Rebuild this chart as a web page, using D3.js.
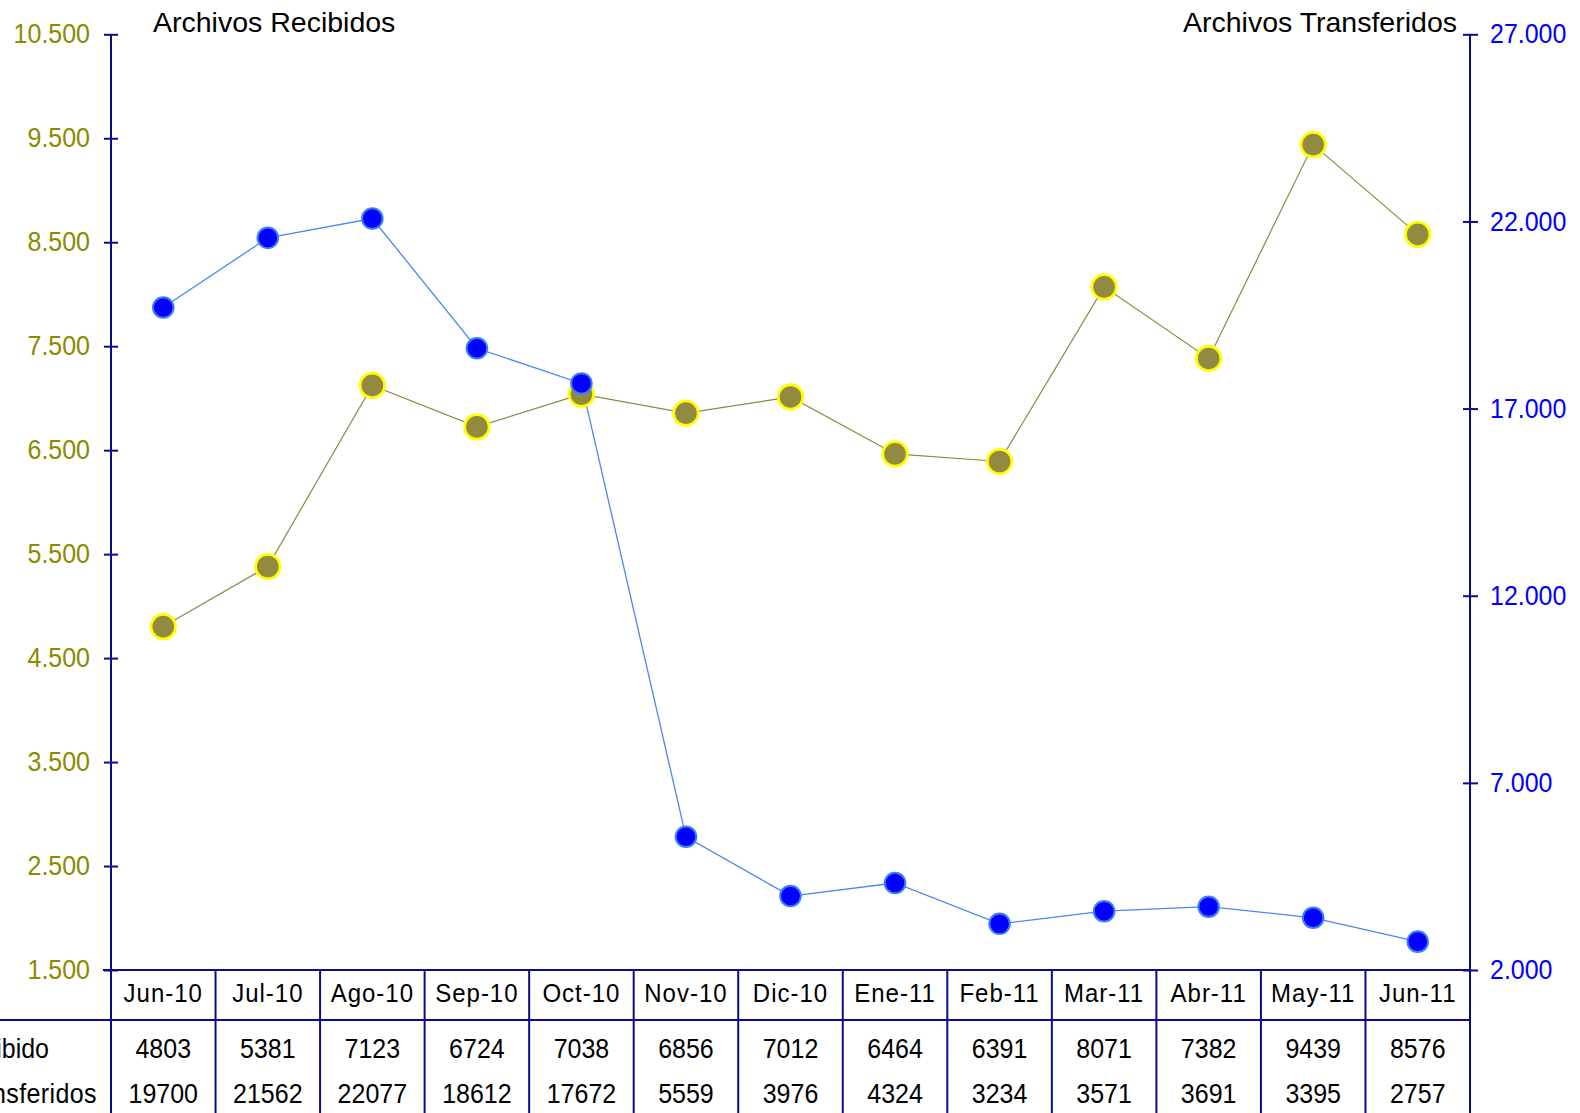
<!DOCTYPE html>
<html><head><meta charset="utf-8">
<script src="https://cdn.jsdelivr.net/npm/d3@7"></script>
<style>
html,body{margin:0;padding:0;background:#fff;}
svg{display:block;}
text{font-family:"Liberation Sans",Arial,sans-serif;}
</style></head>
<body>
<svg id="c" width="1580" height="1113"></svg>
<script>
const months = ["Jun-10","Jul-10","Ago-10","Sep-10","Oct-10","Nov-10","Dic-10","Ene-11","Feb-11","Mar-11","Abr-11","May-11","Jun-11"];
const recibidos = [4803,5381,7123,6724,7038,6856,7012,6464,6391,8071,7382,9439,8576];
const transferidos = [19700,21562,22077,18612,17672,5559,3976,4324,3234,3571,3691,3395,2757];
const leftTicks = [1500,2500,3500,4500,5500,6500,7500,8500,9500,10500];
const rightTicks = [2000,7000,12000,17000,22000,27000];
const rowLabels = ["Recibido","Transferidos"];

const svg = d3.select("#c");
const L = 111, R = 1470, T = 34.3, B = 970;
const navy = "#0a0a8c", olive = "#8c8a00", blue = "#0000ff";
const fmt = d3.formatLocale({decimal:",",thousands:".",grouping:[3],currency:["",""]}).format(",.0f");

const x = d3.scaleBand().domain(months).range([L,R]).padding(0);
const yL = d3.scaleLinear().domain([1500,10500]).range([B,T]);
const yR = d3.scaleLinear().domain([2000,27000]).range([B,T]);
const cx = m => x(m) + x.bandwidth()/2;

// Left axis
const gL = svg.append("g").attr("transform",`translate(${L},0)`)
  .call(d3.axisLeft(yL).tickValues(leftTicks).tickFormat(fmt).tickSize(7).tickPadding(14));
gL.select(".domain").remove();
gL.selectAll(".tick line").attr("x1",-7).attr("x2",7).attr("stroke",navy).attr("stroke-width",2);
gL.selectAll(".tick text").attr("fill",olive).style("font-size","25px")
  .attr("font-family","Liberation Sans, Arial, sans-serif").attr("transform","scale(1,1.08)");
svg.append("line").attr("x1",L).attr("x2",L).attr("y1",T).attr("y2",1113).attr("stroke",navy).attr("stroke-width",2);

// Right axis
const gR = svg.append("g").attr("transform",`translate(${R},0)`)
  .call(d3.axisRight(yR).tickValues(rightTicks).tickFormat(fmt).tickSize(8).tickPadding(12));
gR.select(".domain").remove();
gR.selectAll(".tick line").attr("x1",-7).attr("x2",8).attr("stroke",navy).attr("stroke-width",2);
gR.selectAll(".tick text").attr("fill",blue).style("font-size","25px")
  .attr("font-family","Liberation Sans, Arial, sans-serif").attr("transform","scale(1,1.08)");
svg.append("line").attr("x1",R).attr("x2",R).attr("y1",T).attr("y2",1113).attr("stroke",navy).attr("stroke-width",2);

// Table lines
svg.append("line").attr("x1",L-8).attr("x2",R).attr("y1",B).attr("y2",B).attr("stroke",navy).attr("stroke-width",2);
svg.append("line").attr("x1",0).attr("x2",R).attr("y1",1020).attr("y2",1020).attr("stroke",navy).attr("stroke-width",2);
svg.append("g").selectAll("line").data(months.slice(1)).join("line")
  .attr("x1",d=>x(d)).attr("x2",d=>x(d)).attr("y1",B).attr("y2",1113)
  .attr("stroke",navy).attr("stroke-width",2);

// Header labels
svg.append("g").selectAll("text").data(months).join("text")
  .attr("transform",d=>`translate(${cx(d)},1002) scale(1,1.04)`).attr("text-anchor","middle")
  .style("font-size","24px").style("letter-spacing","1px").attr("fill","#000").text(d=>d);
// Row values
[recibidos,transferidos].forEach((arr,ri)=>{
  svg.append("g").selectAll("text").data(arr).join("text")
    .attr("transform",(d,i)=>`translate(${cx(months[i])},${ri===0?1058:1103}) scale(1,1.07)`).attr("text-anchor","middle")
    .style("font-size","25px").attr("fill","#000").text(d=>d);
});
svg.append("text").attr("transform","translate(49,1058) scale(1,1.07)").attr("text-anchor","end").style("font-size","25px").text(rowLabels[0]);
svg.append("text").attr("transform","translate(97,1103) scale(1,1.07)").attr("text-anchor","end").style("font-size","25px").style("letter-spacing","0.4px").text(rowLabels[1]);

// Titles
svg.append("text").attr("x",153).attr("y",32).style("font-size","28.5px").attr("fill","#000").text("Archivos Recibidos");
svg.append("text").attr("x",1457).attr("y",32).attr("text-anchor","end").style("font-size","28.5px").attr("fill","#000").text("Archivos Transferidos");

// Lines
const lineL = d3.line().x((d,i)=>cx(months[i])).y(d=>yL(d));
const lineR = d3.line().x((d,i)=>cx(months[i])).y(d=>yR(d));
svg.append("path").datum(recibidos).attr("d",lineL).attr("fill","none").attr("stroke","#8a8a40").attr("stroke-width",1.2);
svg.append("path").datum(transferidos).attr("d",lineR).attr("fill","none").attr("stroke","#4a86f5").attr("stroke-width",1.3);

// Markers
svg.append("g").selectAll("circle").data(recibidos).join("circle")
  .attr("cx",(d,i)=>cx(months[i])).attr("cy",d=>yL(d)).attr("r",12.2)
  .attr("fill","#938a42").attr("stroke","#ffff00").attr("stroke-width",2.8);
svg.append("g").selectAll("circle").data(transferidos).join("circle")
  .attr("cx",(d,i)=>cx(months[i])).attr("cy",d=>yR(d)).attr("r",10.3)
  .attr("fill","#0000ff").attr("stroke","#3d7ef0").attr("stroke-width",2);
</script>
</body></html>
